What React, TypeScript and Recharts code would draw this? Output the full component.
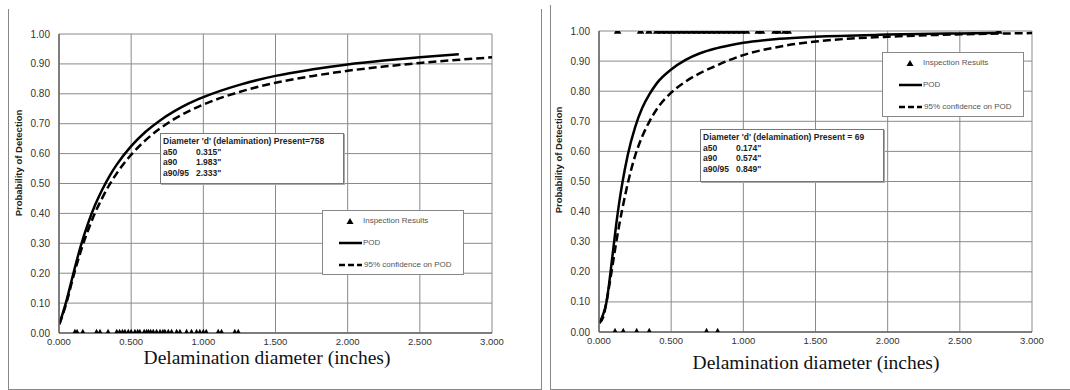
import React from 'react';
import { ComposedChart, Line, Scatter, XAxis, YAxis, CartesianGrid } from 'recharts';

// ---------- axes ----------
const xTicks = [0, 0.5, 1.0, 1.5, 2.0, 2.5, 3.0];
const yTicks = [0, 0.1, 0.2, 0.3, 0.4, 0.5, 0.6, 0.7, 0.8, 0.9, 1.0];
const xTitle = 'Delamination diameter (inches)';
const yTitle = 'Probability of Detection';
const legendLabels = ['Inspection Results', 'POD', '95% confidence on POD'];

// ---------- left chart ----------
const leftPodX = [0.003, 0.05, 0.1, 0.15, 0.2, 0.25, 0.3, 0.35, 0.4, 0.5, 0.6, 0.7, 0.8, 0.9, 1.0, 1.25, 1.5, 1.75, 2.0, 2.25, 2.5, 2.77];
const leftPodY = [0.03, 0.105, 0.2, 0.29, 0.365, 0.428, 0.48, 0.525, 0.563, 0.625, 0.673, 0.711, 0.742, 0.768, 0.789, 0.83, 0.86, 0.881, 0.898, 0.911, 0.922, 0.932];
const leftConfX = [0.003, 0.05, 0.1, 0.15, 0.2, 0.25, 0.3, 0.35, 0.4, 0.5, 0.6, 0.7, 0.8, 0.9, 1.0, 1.25, 1.5, 1.75, 2.0, 2.25, 2.5, 2.75, 3.0];
const leftConfY = [0.03, 0.098, 0.19, 0.272, 0.342, 0.402, 0.452, 0.496, 0.534, 0.596, 0.645, 0.684, 0.716, 0.742, 0.764, 0.806, 0.837, 0.859, 0.877, 0.891, 0.903, 0.913, 0.922];
const leftMissX = [0.11, 0.125, 0.165, 0.26, 0.284, 0.34, 0.4, 0.42, 0.44, 0.457, 0.48, 0.5, 0.526, 0.545, 0.56, 0.59, 0.607, 0.62, 0.635, 0.653, 0.676, 0.7, 0.72, 0.734, 0.757, 0.78, 0.815, 0.838, 0.884, 0.918, 0.953, 0.976, 1.0, 1.02, 1.103, 1.126, 1.218, 1.242];
const leftStats = { title: "Diameter 'd' (delamination) Present=758", rows: [['a50', '0.315"'], ['a90', '1.983"'], ['a90/95', '2.333"']] };

// ---------- right chart ----------
const rightPodX = [0.003, 0.03, 0.05, 0.07, 0.08, 0.09, 0.1, 0.12, 0.14, 0.16, 0.2, 0.25, 0.3, 0.35, 0.4, 0.5, 0.6, 0.7, 0.8, 0.9, 1.0, 1.25, 1.5, 2.0, 2.5, 2.77];
const rightPodY = [0.03, 0.06, 0.095, 0.16, 0.2, 0.24, 0.28, 0.36, 0.43, 0.49, 0.59, 0.68, 0.745, 0.79, 0.826, 0.872, 0.904, 0.926, 0.941, 0.952, 0.961, 0.974, 0.981, 0.988, 0.992, 0.994];
const rightConfX = [0.003, 0.03, 0.05, 0.08, 0.1, 0.12, 0.14, 0.16, 0.2, 0.25, 0.3, 0.35, 0.4, 0.5, 0.6, 0.7, 0.8, 0.9, 1.0, 1.25, 1.5, 1.75, 2.0, 2.5, 3.0];
const rightConfY = [0.03, 0.05, 0.095, 0.18, 0.24, 0.3, 0.355, 0.405, 0.495, 0.585, 0.65, 0.7, 0.74, 0.795, 0.832, 0.86, 0.882, 0.903, 0.92, 0.948, 0.965, 0.975, 0.981, 0.989, 0.993];
const rightHitX = [0.129, 0.288, 0.346, 0.4, 0.434, 0.468, 0.503, 0.538, 0.572, 0.607, 0.642, 0.676, 0.711, 0.745, 0.78, 0.815, 0.849, 0.884, 0.918, 0.953, 0.988, 1.022, 1.103, 1.126, 1.219, 1.242, 1.288, 1.311, 2.77];
const rightMissX = [0.111, 0.168, 0.261, 0.348, 0.745, 0.822];
const rightStats = { title: "Diameter 'd' (delamination) Present = 69", rows: [['a50', '0.174"'], ['a90', '0.574"'], ['a90/95', '0.849"']] };

const toPts = (xs: number[], ys: number[]) => xs.map((x, i) => ({ x, y: ys[i] }));
const atLevel = (xs: number[], level: number) => xs.map((x) => ({ x, y: level }));

const SANS = '"Liberation Sans", Arial, sans-serif';
const SERIF = '"Liberation Serif", "Times New Roman", serif';

const renderTri = (props: any) => {
  const { cx, cy } = props;
  if (cx == null || cy == null || isNaN(cx) || isNaN(cy)) return <g />;
  const w = 7.5;
  const h = 7;
  return (
    <polygon
      points={`${cx},${cy - h * 0.6} ${cx - w / 2},${cy + h * 0.4} ${cx + w / 2},${cy + h * 0.4}`}
      fill="#000"
      stroke="none"
    />
  );
};

type ChartProps = {
  pod: { x: number; y: number }[];
  conf: { x: number; y: number }[];
  pts: { x: number; y: number }[];
  width: number;
  margin: { top: number; right: number; bottom: number; left: number };
};

const PodChart = ({ pod, conf, pts, width, margin }: ChartProps) => (
  <ComposedChart width={width} height={390} margin={margin}>
    <CartesianGrid stroke="#8a8a8a" strokeWidth={1} fill="#fff" />
    <XAxis
      type="number"
      dataKey="x"
      domain={[0, 3]}
      ticks={xTicks}
      allowDataOverflow
      tickFormatter={(v: number) => v.toFixed(3)}
      tickLine={false}
      tickSize={5}
      tickMargin={0}
      height={25}
      axisLine={{ stroke: '#666', strokeWidth: 1.5 }}
      tick={{ fill: '#333', fontSize: 9.5, fontFamily: SANS }}
      interval={0}
    />
    <YAxis
      type="number"
      dataKey="y"
      domain={[0, 1]}
      ticks={yTicks}
      allowDataOverflow
      tickFormatter={(v: number) => v.toFixed(2)}
      tickLine={false}
      tickSize={6}
      tickMargin={3}
      width={59}
      axisLine={{ stroke: '#666', strokeWidth: 1.5 }}
      tick={{ fill: '#333', fontSize: 10, fontFamily: SANS }}
      interval={0}
    />
    <Line data={conf} dataKey="y" type="monotone" stroke="#000" strokeWidth={2.5} strokeDasharray="8 4" dot={false} isAnimationActive={false} />
    <Line data={pod} dataKey="y" type="monotone" stroke="#000" strokeWidth={2.5} dot={false} isAnimationActive={false} />
    <Scatter data={pts} dataKey="y" shape={renderTri} fill="#000" isAnimationActive={false} />
  </ComposedChart>
);

const LegendBox = ({ left, top }: { left: number; top: number }) => (
  <div style={{ position: 'absolute', left, top, width: 142, height: 65, boxSizing: 'border-box', border: '1px solid #888', background: '#fff', fontFamily: SANS, fontSize: 8, color: '#555' }}>
    <svg width={142} height={65} style={{ position: 'absolute', left: -1, top: -1 }}>
      <polygon points="28,8 24.5,14 31.5,14" fill="#000" />
      <line x1={17} y1={33} x2={40} y2={33} stroke="#000" strokeWidth={2.5} />
      <line x1={17} y1={55} x2={40} y2={55} stroke="#000" strokeWidth={2.5} strokeDasharray="6 3" />
    </svg>
    <div style={{ position: 'absolute', left: 40, top: 5, whiteSpace: 'nowrap' }}>{legendLabels[0]}</div>
    <div style={{ position: 'absolute', left: 40, top: 27, whiteSpace: 'nowrap' }}>{legendLabels[1]}</div>
    <div style={{ position: 'absolute', left: 41, top: 49, whiteSpace: 'nowrap' }}>{legendLabels[2]}</div>
  </div>
);

const StatsBox = ({ left, top, height, stats }: { left: number; top: number; height: number; stats: { title: string; rows: string[][] } }) => (
  <div style={{ position: 'absolute', left, top, width: 184, height, boxSizing: 'border-box', border: '1px solid #777', boxShadow: '1px 1px 0 #aaa', background: '#fff', fontFamily: SANS, fontSize: 8.5, fontWeight: 'bold', color: '#222', lineHeight: '10.7px', padding: '2px 0 0 2px' }}>
    <div style={{ whiteSpace: 'nowrap' }}>{stats.title}</div>
    {stats.rows.map((r) => (
      <div key={r[0]} style={{ whiteSpace: 'nowrap', position: 'relative', height: 10.7 }}>
        <span>{r[0]}</span>
        <span style={{ position: 'absolute', left: 33 }}>{r[1]}</span>
      </div>
    ))}
  </div>
);

const YTitle = ({ cx, cy }: { cx: number; cy: number }) => (
  <div style={{ position: 'absolute', left: cx - 100, top: cy - 6, width: 200, height: 12, textAlign: 'center', transform: 'rotate(-90deg)', fontFamily: SANS, fontWeight: 'bold', fontSize: 9.5, lineHeight: '12px', color: '#222' }}>
    {yTitle}
  </div>
);

const XTitle = ({ cx, cy }: { cx: number; cy: number }) => (
  <div style={{ position: 'absolute', left: cx - 200, top: cy - 12, width: 400, height: 24, textAlign: 'center', fontFamily: SERIF, fontSize: 19.5, lineHeight: '24px', color: '#111' }}>
    {xTitle}
  </div>
);

export default function App() {
  const leftPod = toPts(leftPodX, leftPodY);
  const leftConf = toPts(leftConfX, leftConfY);
  const leftPts = atLevel(leftMissX, 0);
  const rightPod = toPts(rightPodX, rightPodY);
  const rightConf = toPts(rightConfX, rightConfY);
  const rightPts = [...atLevel(rightHitX, 1), ...atLevel(rightMissX, 0)];
  return (
    <div style={{ position: 'absolute', left: 0, top: 0, width: 1070, height: 390, background: '#fff', overflow: 'hidden' }}>
      <div style={{ position: 'absolute', left: 8, top: 9, width: 534, height: 381, boxSizing: 'border-box', borderLeft: '1px solid #888', borderRight: '1px solid #888', borderBottom: '1px solid #888' }} />
      <div style={{ position: 'absolute', left: 550, top: 5, width: 520, height: 385, boxSizing: 'border-box', borderLeft: '1px solid #888', borderBottom: '1px solid #888' }} />

      <div style={{ position: 'absolute', left: 0, top: 0 }}>
        <PodChart pod={leftPod} conf={leftConf} pts={leftPts} width={540} margin={{ top: 34, right: 48, bottom: 32, left: 0 }} />
      </div>
      <div style={{ position: 'absolute', left: 540, top: 0 }}>
        <PodChart pod={rightPod} conf={rightConf} pts={rightPts} width={530} margin={{ top: 31, right: 38, bottom: 33, left: 0 }} />
      </div>

      <StatsBox left={160} top={133} height={51} stats={leftStats} />
      <StatsBox left={700} top={129} height={53} stats={rightStats} />
      <LegendBox left={322} top={210} />
      <LegendBox left={882} top={52} />

      <YTitle cx={19} cy={163} />
      <YTitle cx={559} cy={160} />
      <XTitle cx={267} cy={358} />
      <XTitle cx={816} cy={363} />
    </div>
  );
}
